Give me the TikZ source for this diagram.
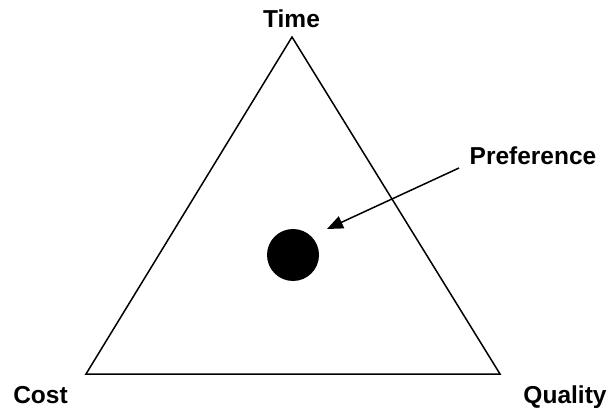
\documentclass[tikz,border=0pt]{standalone}
\usepackage{fontspec}
\setmainfont{Liberation Sans}
\usetikzlibrary{arrows.meta}
\begin{document}
\begin{tikzpicture}[x=1pt,y=1pt,
  edge/.style={line width=1.5pt,line join=miter},
  lbl/.style={font=\bfseries\fontsize{24.5}{28}\selectfont,anchor=base,inner sep=0pt},
  pointer/.style={line width=1.5pt,-{Triangle[length=16pt,width=13pt]}}]
\useasboundingbox (0,0) rectangle (609,407);
\coordinate (T) at (292,370);
\coordinate (C) at (86,33);
\coordinate (Q) at (500,33);
\draw[edge] (T) -- (Q) -- (C) -- cycle;
\node[lbl] (time) at (291.5,379) {Time};
\node[lbl] (cost) at (40.5,4) {Cost};
\node[lbl] (quality) at (565,4) {Quality};
\node[lbl] (pref) at (533,242) {Preference};
\node[circle,fill=black,minimum size=52pt,inner sep=0pt] (dot) at (293,152) {};
\coordinate (ps) at (459,239);
\coordinate (pe) at (327,178);
\draw[pointer] (ps) -- (pe);
\end{tikzpicture}
\end{document}
